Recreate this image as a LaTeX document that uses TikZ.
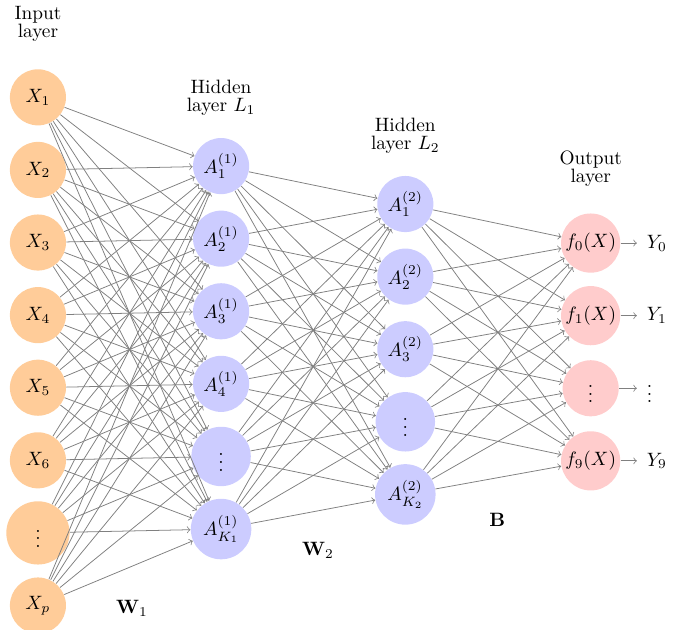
\documentclass[tikz,border=0pt]{standalone}
\usepackage{amsmath,amssymb}
\usepackage{tikz}
\usetikzlibrary{arrows}
\usetikzlibrary{positioning}

\begin{document}
\begin{tikzpicture}[every node/.style={inner sep=1pt},
        unit/.style={circle,minimum size=1.02cm},
        inp/.style={unit,fill=orange!40},
        hid/.style={unit,fill=blue!20},
        outp/.style={unit,fill=red!20},
        resp/.style={anchor=west,inner sep=5pt},
        conn/.style={->,draw=gray,line width=0.4pt},
        lbl/.style={align=center,inner sep=2pt}]

    \useasboundingbox (0,0) rectangle (12.31,11.44);

    % input layer
    \node[inp] (I1) at (0.69,9.67) {$X_1$};
    \node[inp] (I2) at (0.69,8.35) {$X_2$};
    \node[inp] (I3) at (0.69,7.03) {$X_3$};
    \node[inp] (I4) at (0.69,5.71) {$X_4$};
    \node[inp] (I5) at (0.69,4.39) {$X_5$};
    \node[inp] (I6) at (0.69,3.07) {$X_6$};
    \node[inp,minimum size=1.15cm] (I7) at (0.69,1.75) {$\vdots$};
    \node[inp] (I8) at (0.69,0.43) {$X_p$};

    % hidden layer 1
    \node[hid] (H1) at (4.02,8.42) {$A_1^{(1)}$};
    \node[hid] (H2) at (4.02,7.10) {$A_2^{(1)}$};
    \node[hid] (H3) at (4.02,5.78) {$A_3^{(1)}$};
    \node[hid] (H4) at (4.02,4.46) {$A_4^{(1)}$};
    \node[hid,minimum size=1.08cm] (H5) at (4.02,3.14) {$\vdots$};
    \node[hid,minimum size=1.1cm] (H6) at (4.02,1.82) {$A_{K_1}^{(1)}$};

    % hidden layer 2
    \node[hid] (G1) at (7.37,7.73) {$A_1^{(2)}$};
    \node[hid] (G2) at (7.37,6.41) {$A_2^{(2)}$};
    \node[hid] (G3) at (7.37,5.09) {$A_3^{(2)}$};
    \node[hid,minimum size=1.08cm] (G4) at (7.37,3.77) {$\vdots$};
    \node[hid,minimum size=1.1cm] (G5) at (7.37,2.45) {$A_{K_2}^{(2)}$};

    % output layer
    \node[outp] (O1) at (10.74,7.02) {$f_0(X)$};
    \node[outp] (O2) at (10.74,5.70) {$f_1(X)$};
    \node[outp] (O3) at (10.74,4.38) {$\vdots$};
    \node[outp] (O4) at (10.74,3.06) {$f_9(X)$};

    \node[resp] (Y1) at (11.58,7.02) {$Y_0$};
    \node[resp] (Y2) at (11.58,5.70) {$Y_1$};
    \node[resp] (Y3) at (11.58,4.38) {$\vdots$};
    \node[resp] (Y4) at (11.58,3.06) {$Y_9$};

    % layer titles
    \node[lbl,above=0.42cm of I1] {Input\\[-2.5pt]layer};
    \node[lbl,above=0.32cm of H1] {Hidden\\[-2.5pt]layer $L_1$};
    \node[lbl,above=0.32cm of G1] {Hidden\\[-2.5pt]layer $L_2$};
    \node[lbl,above=0.4cm of O1] {Output\\[-2.5pt]layer};

    % weights
    \node (W1) at (2.40,0.38) {$\mathbf{W}_1$};
    \node (W2) at (5.78,1.44) {$\mathbf{W}_2$};
    \node (B) at (9.04,1.98) {$\mathbf{B}$};

    % connections
    \foreach \i in {1,...,8}
        \foreach \j in {1,...,6}
            \draw[conn] (I\i) -- (H\j);
    \foreach \i in {1,...,6}
        \foreach \j in {1,...,5}
            \draw[conn] (H\i) -- (G\j);
    \foreach \i in {1,...,5}
        \foreach \j in {1,...,4}
            \draw[conn] (G\i) -- (O\j);
    \foreach \i in {1,...,4}
        \draw[conn] (O\i) -- (Y\i);
\end{tikzpicture}
\end{document}
